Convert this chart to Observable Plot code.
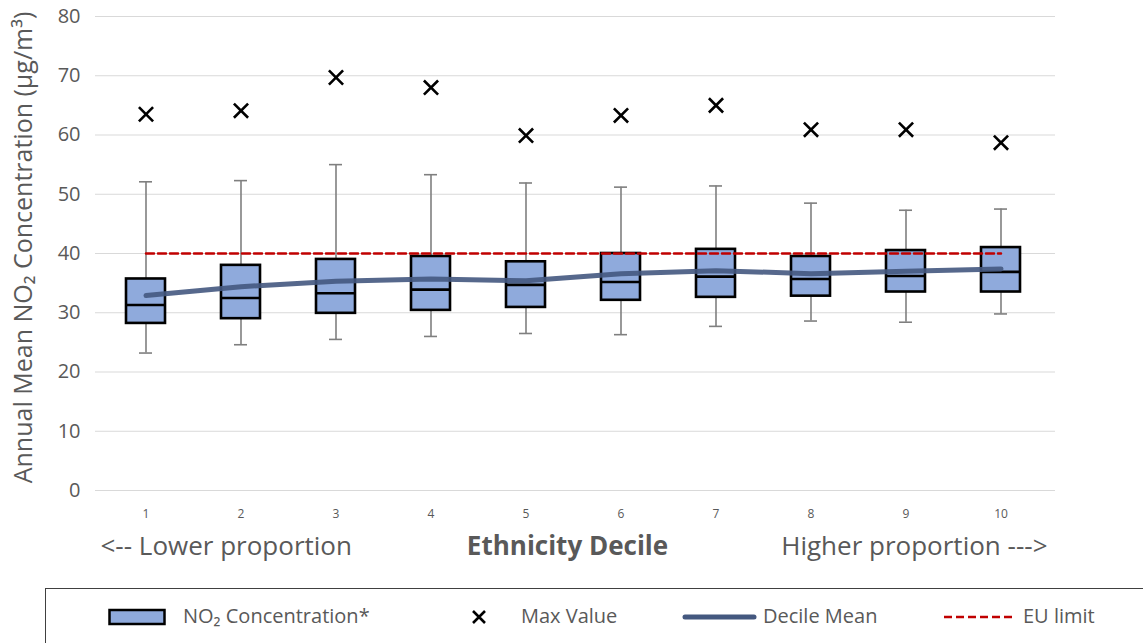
<!DOCTYPE html>
<html>
<head>
<meta charset="utf-8">
<script src="https://cdn.jsdelivr.net/npm/d3@7"></script>
<script src="https://cdn.jsdelivr.net/npm/@observablehq/plot@0.6"></script>
<style>
  body { margin: 0; background: #fff; font-family: "Open Sans", "Liberation Sans", sans-serif; }
  #wrap { position: relative; width: 1143px; height: 643px; overflow: hidden; }
  #chart svg { font-family: "Open Sans", "Liberation Sans", sans-serif; }
  #chart g[aria-label="y-axis tick label"] { font-size: 20px; fill: #595959; }
  #chart g[aria-label="x-axis tick label"] { font-size: 12px; fill: #595959; }
  #legend { position: absolute; left: 45px; top: 588px; width: 1110px; height: 70px;
            border: 1.5px solid #404040; box-sizing: border-box; font-size: 20px; color: #595959; }
  .sw { position: absolute; top: 19px; }
  .lt { position: absolute; top: 13px; line-height: 28px; white-space: nowrap; }
</style>
</head>
<body>
<div id="wrap">
  <div id="chart"></div>
  <div id="legend">
    <svg class="sw" style="left:62px" width="58" height="18"><rect x="1.5" y="2" width="55" height="14" fill="#8faadc" stroke="#000" stroke-width="2.5"/></svg>
    <div class="lt" style="left:137px">NO₂ Concentration*</div>
    <svg class="sw" style="left:424px" width="18" height="18"><path d="M3,3L15,15M15,3L3,15" stroke="#000" stroke-width="2.6"/></svg>
    <div class="lt" style="left:475px">Max Value</div>
    <svg class="sw" style="left:636px" width="76" height="18"><line x1="3" y1="9" x2="72" y2="9" stroke="#44587f" stroke-width="5" stroke-linecap="round"/></svg>
    <div class="lt" style="left:717px">Decile Mean</div>
    <svg class="sw" style="left:897px" width="74" height="18"><line x1="1" y1="9" x2="73" y2="9" stroke="#c00000" stroke-width="2.5" stroke-dasharray="8,4"/></svg>
    <div class="lt" style="left:977px">EU limit</div>
  </div>
</div>
<script>
const deciles      = [1, 2, 3, 4, 5, 6, 7, 8, 9, 10];
const q1           = [28.2, 29.0, 29.9, 30.4, 30.9, 32.1, 32.6, 32.8, 33.5, 33.5];
const median       = [31.3, 32.5, 33.3, 33.9, 34.7, 35.2, 36.1, 35.7, 36.2, 36.9];
const q3           = [35.7, 38.0, 39.0, 39.5, 38.6, 40.0, 40.7, 39.5, 40.5, 41.0];
const whiskerLow   = [23.2, 24.6, 25.5, 26.0, 26.5, 26.3, 27.7, 28.6, 28.4, 29.8];
const whiskerHigh  = [52.1, 52.3, 55.0, 53.3, 51.9, 51.2, 51.4, 48.5, 47.3, 47.5];
const maxValue     = [63.5, 64.1, 69.7, 68.0, 59.9, 63.3, 65.0, 60.9, 60.9, 58.7];
const decileMean   = [32.9, 34.4, 35.3, 35.7, 35.4, 36.6, 37.1, 36.6, 37.0, 37.4];
const euLimit      = 40;
const yTicks       = [0, 10, 20, 30, 40, 50, 60, 70, 80];
const yLabel       = "Annual Mean NO₂ Concentration (µg/m³)";
const xTitle       = "Ethnicity Decile";
const leftNote     = "<-- Lower proportion";
const rightNote    = "Higher proportion --->";

const data = deciles.map((d, i) => ({
  decile: d, q1: q1[i], med: median[i], q3: q3[i],
  lo: whiskerLow[i], hi: whiskerHigh[i], max: maxValue[i],
  mean: decileMean[i], eu: euLimit
}));

const chart = Plot.plot({
  width: 1143,
  height: 588,
  marginTop: 16,
  marginBottom: 98,
  marginLeft: 95,
  marginRight: 92,
  style: { fontFamily: "'Open Sans', 'Liberation Sans', sans-serif", color: "#595959", background: "#fff" },
  x: { type: "band", domain: deciles, paddingInner: 0.59, paddingOuter: 0.295, label: null, tickSize: 0, tickPadding: 19 },
  y: { domain: [0, 80], ticks: yTicks, label: null, tickSize: 0, tickPadding: 15 },
  marks: [
    Plot.ruleY(yTicks, { stroke: "#d9d9d9", strokeWidth: 1.2, insetRight: -4 }),
    Plot.ruleX(data, { x: "decile", y1: "lo", y2: "hi", stroke: "#7f7f7f", strokeWidth: 1.6 }),
    Plot.tickY(data, { x: "decile", y: "hi", stroke: "#7f7f7f", strokeWidth: 1.6, insetLeft: 13, insetRight: 13 }),
    Plot.tickY(data, { x: "decile", y: "lo", stroke: "#7f7f7f", strokeWidth: 1.6, insetLeft: 13, insetRight: 13 }),
    Plot.barY(data, { x: "decile", y1: "q1", y2: "q3", fill: "#8faadc", stroke: "#000", strokeWidth: 2.6 }),
    Plot.tickY(data, { x: "decile", y: "med", stroke: "#000", strokeWidth: 2.6 }),
    Plot.line(data, { x: "decile", y: "mean", stroke: "#44587f", strokeWidth: 5, strokeOpacity: 0.9, strokeLinecap: "round" }),
    Plot.line(data, { x: "decile", y: "eu", stroke: "#c00000", strokeWidth: 2.5, strokeDasharray: "8,4" }),
    Plot.dot(data, { x: "decile", y: "max", symbol: "times", r: 6.5, stroke: "#000", strokeWidth: 2.6 }),
    Plot.text([yLabel], { frameAnchor: "left", dx: -72, dy: -6, rotate: -90, fontSize: 25, fill: "#595959", textAnchor: "middle" }),
    Plot.text([leftNote], { frameAnchor: "bottom-left", dx: 5, dy: 64, fontSize: 26, fill: "#595959", textAnchor: "start" }),
    Plot.text([xTitle], { frameAnchor: "bottom", dx: -6, dy: 64, fontSize: 26, fontWeight: "bold", fill: "#595959" }),
    Plot.text([rightNote], { frameAnchor: "bottom-right", dx: -4, dy: 64, fontSize: 26, fill: "#595959", textAnchor: "end" })
  ]
});
document.getElementById("chart").appendChild(chart);
</script>
</body>
</html>
